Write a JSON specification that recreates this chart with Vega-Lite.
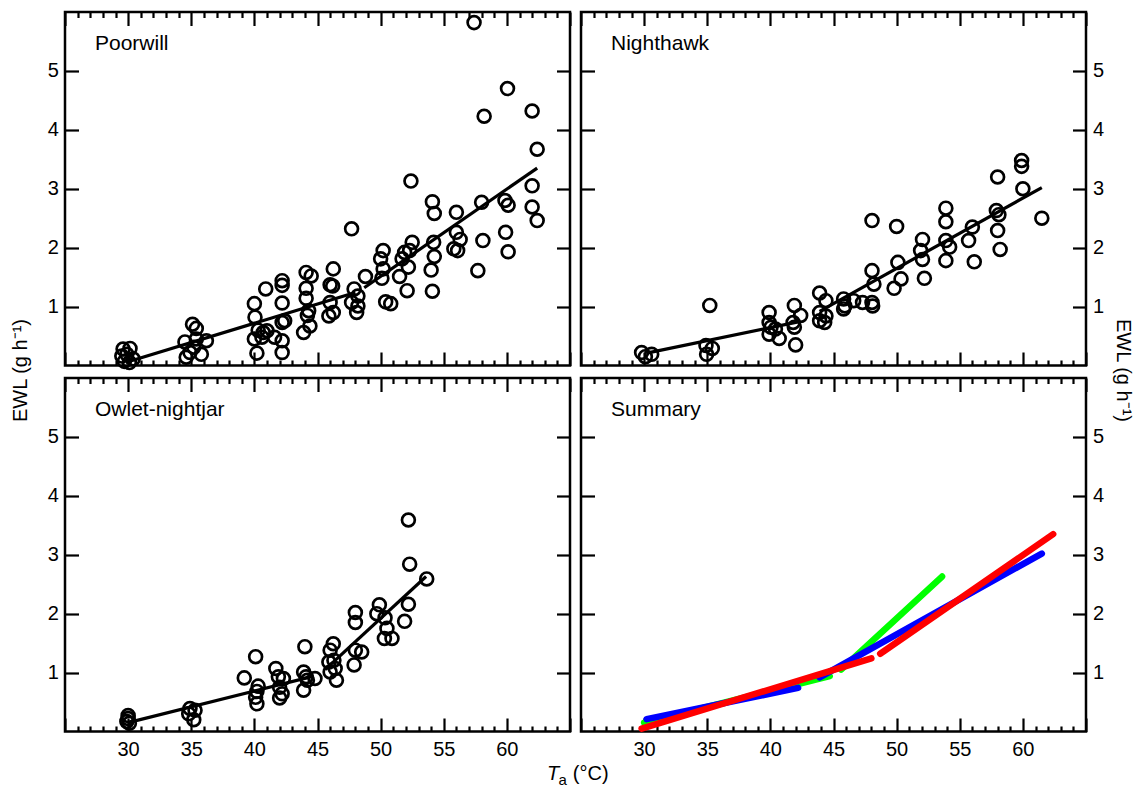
{
  "$schema": "https://vega.github.io/schema/vega-lite/v6.json",
  "padding": {"left": 8, "top": 9, "right": 0, "bottom": 4},
  "bounds": "flush",
  "columns": 2,
  "spacing": {"row": 12, "column": 11},
  "config": {
    "font": "Liberation Sans",
    "view": {"stroke": "black", "strokeWidth": 2.5},
    "axis": {"domain": false, "grid": false, "tickColor": "black", "tickWidth": 2.2, "labelFont": "Liberation Sans", "labelFontSize": 20, "labelColor": "black", "labelFlush": false, "labelOverlap": false, "titleFont": "Liberation Sans", "titleFontSize": 20, "titleColor": "black", "titleFontWeight": "normal"},
    "title": {"font": "Liberation Sans", "fontSize": 21, "fontWeight": "normal", "color": "black"}
  },
  "datasets": {
    "poorwill": [
      {"T": 29.6, "EWL": 0.28}, {"T": 30.15, "EWL": 0.29}, {"T": 29.5, "EWL": 0.16}, {"T": 30.4, "EWL": 0.11}, {"T": 29.9, "EWL": 0.19}, {"T": 29.7, "EWL": 0.07}, {"T": 30.1, "EWL": 0.05},
      {"T": 35.1, "EWL": 0.70}, {"T": 35.4, "EWL": 0.63}, {"T": 34.5, "EWL": 0.40}, {"T": 36.2, "EWL": 0.42}, {"T": 35.4, "EWL": 0.45}, {"T": 34.9, "EWL": 0.22}, {"T": 34.6, "EWL": 0.14}, {"T": 35.8, "EWL": 0.19}, {"T": 35.2, "EWL": 0.31},
      {"T": 40.0, "EWL": 1.05}, {"T": 40.9, "EWL": 1.30}, {"T": 40.05, "EWL": 0.82}, {"T": 40.0, "EWL": 0.45}, {"T": 40.2, "EWL": 0.21}, {"T": 40.7, "EWL": 0.56}, {"T": 41.0, "EWL": 0.59}, {"T": 40.6, "EWL": 0.48}, {"T": 41.6, "EWL": 0.48}, {"T": 42.2, "EWL": 0.42}, {"T": 42.2, "EWL": 0.22}, {"T": 42.2, "EWL": 1.44}, {"T": 42.2, "EWL": 1.36}, {"T": 42.2, "EWL": 1.06}, {"T": 42.4, "EWL": 0.76}, {"T": 42.2, "EWL": 0.73}, {"T": 40.3, "EWL": 0.60},
      {"T": 44.1, "EWL": 1.58}, {"T": 44.5, "EWL": 1.52}, {"T": 44.1, "EWL": 1.31}, {"T": 44.1, "EWL": 1.14}, {"T": 44.3, "EWL": 0.93}, {"T": 44.4, "EWL": 0.67}, {"T": 43.9, "EWL": 0.56}, {"T": 44.2, "EWL": 0.85},
      {"T": 46.25, "EWL": 1.64}, {"T": 46.0, "EWL": 1.37}, {"T": 46.2, "EWL": 1.35}, {"T": 46.0, "EWL": 1.07}, {"T": 46.25, "EWL": 0.90}, {"T": 45.9, "EWL": 0.84},
      {"T": 57.4, "EWL": 5.82}, {"T": 60.05, "EWL": 4.70}, {"T": 58.2, "EWL": 4.23}, {"T": 62.0, "EWL": 4.32}, {"T": 62.4, "EWL": 3.67}, {"T": 52.4, "EWL": 3.13}, {"T": 62.0, "EWL": 3.05}, {"T": 54.1, "EWL": 2.78}, {"T": 54.25, "EWL": 2.58}, {"T": 56.0, "EWL": 2.60}, {"T": 58.0, "EWL": 2.77}, {"T": 59.85, "EWL": 2.80}, {"T": 60.1, "EWL": 2.72}, {"T": 62.0, "EWL": 2.69}, {"T": 62.4, "EWL": 2.46},
      {"T": 47.7, "EWL": 2.32}, {"T": 56.0, "EWL": 2.26}, {"T": 56.3, "EWL": 2.14}, {"T": 58.1, "EWL": 2.12}, {"T": 59.9, "EWL": 2.26}, {"T": 60.1, "EWL": 1.93}, {"T": 55.8, "EWL": 1.98}, {"T": 56.1, "EWL": 1.95}, {"T": 57.7, "EWL": 1.61},
      {"T": 54.2, "EWL": 2.09}, {"T": 54.25, "EWL": 1.85}, {"T": 54.0, "EWL": 1.62}, {"T": 54.1, "EWL": 1.26}, {"T": 52.5, "EWL": 2.09}, {"T": 52.3, "EWL": 1.95}, {"T": 51.9, "EWL": 1.92}, {"T": 51.7, "EWL": 1.81}, {"T": 52.2, "EWL": 1.67}, {"T": 51.5, "EWL": 1.51}, {"T": 52.1, "EWL": 1.27},
      {"T": 50.2, "EWL": 1.95}, {"T": 50.0, "EWL": 1.81}, {"T": 50.2, "EWL": 1.64}, {"T": 50.1, "EWL": 1.48}, {"T": 50.4, "EWL": 1.08}, {"T": 50.8, "EWL": 1.05}, {"T": 48.8, "EWL": 1.51}, {"T": 47.9, "EWL": 1.30}, {"T": 48.2, "EWL": 1.18}, {"T": 47.7, "EWL": 1.07}, {"T": 48.2, "EWL": 1.01}, {"T": 48.1, "EWL": 0.90}
    ],
    "nighthawk": [
      {"T": 29.8, "EWL": 0.22}, {"T": 30.1, "EWL": 0.15}, {"T": 30.6, "EWL": 0.19}, {"T": 35.2, "EWL": 1.02}, {"T": 34.9, "EWL": 0.34}, {"T": 34.95, "EWL": 0.19}, {"T": 35.4, "EWL": 0.29},
      {"T": 39.9, "EWL": 0.90}, {"T": 39.9, "EWL": 0.73}, {"T": 40.05, "EWL": 0.65}, {"T": 39.9, "EWL": 0.53}, {"T": 40.4, "EWL": 0.62}, {"T": 40.7, "EWL": 0.46}, {"T": 41.9, "EWL": 1.02}, {"T": 41.9, "EWL": 0.65}, {"T": 42.4, "EWL": 0.85}, {"T": 42.0, "EWL": 0.35}, {"T": 41.8, "EWL": 0.73},
      {"T": 43.9, "EWL": 1.23}, {"T": 44.4, "EWL": 1.10}, {"T": 43.9, "EWL": 0.90}, {"T": 43.9, "EWL": 0.76}, {"T": 44.3, "EWL": 0.73}, {"T": 44.4, "EWL": 0.84}, {"T": 45.8, "EWL": 1.13}, {"T": 45.8, "EWL": 0.96}, {"T": 45.9, "EWL": 1.01}, {"T": 46.6, "EWL": 1.10}, {"T": 47.3, "EWL": 1.07},
      {"T": 48.05, "EWL": 2.46}, {"T": 48.05, "EWL": 1.61}, {"T": 48.2, "EWL": 1.38}, {"T": 48.05, "EWL": 1.07}, {"T": 48.1, "EWL": 1.01}, {"T": 50.0, "EWL": 2.36}, {"T": 50.1, "EWL": 1.75}, {"T": 50.35, "EWL": 1.47}, {"T": 49.8, "EWL": 1.31},
      {"T": 52.05, "EWL": 2.14}, {"T": 51.9, "EWL": 1.95}, {"T": 52.05, "EWL": 1.80}, {"T": 52.2, "EWL": 1.48}, {"T": 53.9, "EWL": 2.67}, {"T": 53.9, "EWL": 2.44}, {"T": 53.9, "EWL": 2.12}, {"T": 54.2, "EWL": 2.01}, {"T": 53.9, "EWL": 1.78},
      {"T": 56.0, "EWL": 2.35}, {"T": 55.7, "EWL": 2.12}, {"T": 56.15, "EWL": 1.76}, {"T": 58.0, "EWL": 3.20}, {"T": 57.9, "EWL": 2.63}, {"T": 58.1, "EWL": 2.56}, {"T": 58.0, "EWL": 2.29}, {"T": 58.2, "EWL": 1.97},
      {"T": 59.9, "EWL": 3.48}, {"T": 59.9, "EWL": 3.38}, {"T": 60.0, "EWL": 3.00}, {"T": 61.5, "EWL": 2.50}
    ],
    "owlet": [
      {"T": 30.0, "EWL": 0.27}, {"T": 30.0, "EWL": 0.22}, {"T": 29.9, "EWL": 0.17}, {"T": 30.1, "EWL": 0.14}, {"T": 34.9, "EWL": 0.39}, {"T": 35.3, "EWL": 0.36}, {"T": 34.8, "EWL": 0.30}, {"T": 35.2, "EWL": 0.20},
      {"T": 40.1, "EWL": 1.27}, {"T": 39.2, "EWL": 0.91}, {"T": 40.3, "EWL": 0.77}, {"T": 40.2, "EWL": 0.68}, {"T": 40.1, "EWL": 0.58}, {"T": 40.2, "EWL": 0.47}, {"T": 41.7, "EWL": 1.07}, {"T": 41.9, "EWL": 0.93}, {"T": 42.3, "EWL": 0.90}, {"T": 42.0, "EWL": 0.75}, {"T": 42.2, "EWL": 0.64}, {"T": 42.0, "EWL": 0.57},
      {"T": 44.0, "EWL": 1.44}, {"T": 43.9, "EWL": 1.01}, {"T": 44.1, "EWL": 0.93}, {"T": 44.2, "EWL": 0.87}, {"T": 43.9, "EWL": 0.70}, {"T": 44.8, "EWL": 0.90},
      {"T": 46.25, "EWL": 1.49}, {"T": 46.0, "EWL": 1.38}, {"T": 45.9, "EWL": 1.18}, {"T": 46.3, "EWL": 1.21}, {"T": 46.0, "EWL": 1.01}, {"T": 46.4, "EWL": 1.07}, {"T": 46.5, "EWL": 0.87},
      {"T": 48.0, "EWL": 2.02}, {"T": 48.0, "EWL": 1.85}, {"T": 48.0, "EWL": 1.38}, {"T": 48.5, "EWL": 1.35}, {"T": 47.9, "EWL": 1.13},
      {"T": 49.9, "EWL": 2.15}, {"T": 49.7, "EWL": 2.00}, {"T": 50.35, "EWL": 1.93}, {"T": 50.5, "EWL": 1.75}, {"T": 50.3, "EWL": 1.58}, {"T": 50.9, "EWL": 1.58},
      {"T": 52.2, "EWL": 2.16}, {"T": 51.9, "EWL": 1.87}, {"T": 52.3, "EWL": 2.84}, {"T": 52.2, "EWL": 3.59}, {"T": 53.65, "EWL": 2.59}
    ],
    "fits": [
      {"species": "Owlet-nightjar", "seg": "O1", "T": 30.0, "EWL": 0.15},
      {"species": "Owlet-nightjar", "seg": "O1", "T": 44.7, "EWL": 0.94},
      {"species": "Owlet-nightjar", "seg": "O2", "T": 45.6, "EWL": 1.05},
      {"species": "Owlet-nightjar", "seg": "O2", "T": 53.6, "EWL": 2.63},
      {"species": "Nighthawk", "seg": "N1", "T": 30.2, "EWL": 0.21},
      {"species": "Nighthawk", "seg": "N1", "T": 42.2, "EWL": 0.74},
      {"species": "Nighthawk", "seg": "N2", "T": 43.9, "EWL": 0.92},
      {"species": "Nighthawk", "seg": "N2", "T": 61.5, "EWL": 3.02},
      {"species": "Poorwill", "seg": "P1", "T": 29.8, "EWL": 0.05},
      {"species": "Poorwill", "seg": "P1", "T": 48.0, "EWL": 1.24},
      {"species": "Poorwill", "seg": "P2", "T": 48.7, "EWL": 1.32},
      {"species": "Poorwill", "seg": "P2", "T": 62.4, "EWL": 3.35}
    ]
  },
  "concat": [
    {
      "width": 505, "height": 353.5,
      "title": {"text": "Poorwill", "anchor": "start", "frame": "group", "offset": -60.5, "baseline": "alphabetic", "dx": 30},
      "resolve": {"axis": {"x": "independent", "y": "independent"}},
      "layer": [
        {"data": {"name": "poorwill"},
         "mark": {"type": "point", "shape": "circle", "filled": false, "stroke": "black", "strokeWidth": 2.7, "size": 165, "opacity": 1},
         "encoding": {
           "x": {"field": "T", "type": "quantitative", "scale": {"domain": [25, 65], "nice": false, "zero": false}, "axis": {"orient": "bottom", "values": [25,30,35,40,45,50,55,60,65], "tickSize": -13.5, "labels": false, "title": null}},
           "y": {"field": "EWL", "type": "quantitative", "scale": {"domain": [0, 6], "nice": false, "zero": false}, "axis": {"orient": "left", "values": [1,2,3,4,5], "tickSize": -13.5, "labelPadding": 20.2, "title": "EWL (g h⁻¹)", "titleAngle": -90, "titleX": -39, "titleY": 358, "titleAlign": "center", "titleBaseline": "alphabetic"}}
         }},
        {"data": {"name": "fits"}, "transform": [{"filter": "datum.species === 'Poorwill'"}],
         "mark": {"type": "line", "color": "black", "strokeWidth": 3.2},
         "encoding": {
           "x": {"field": "T", "type": "quantitative", "scale": {"domain": [25, 65], "nice": false, "zero": false}, "axis": {"orient": "top", "values": [25,30,35,40,45,50,55,60,65], "tickSize": -13.5, "labels": false, "title": null}},
           "y": {"field": "EWL", "type": "quantitative", "scale": {"domain": [0, 6], "nice": false, "zero": false}, "axis": {"orient": "right", "values": [1,2,3,4,5], "tickSize": -13.5, "labels": false, "title": null}},
           "detail": {"field": "seg", "type": "nominal"}
         }},
        {"data": {"name": "fits"}, "mark": {"type": "point", "opacity": 0},
         "encoding": {
           "x": {"field": "T", "type": "quantitative", "scale": {"domain": [25, 65], "nice": false, "zero": false}, "axis": {"orient": "bottom", "values": [26,27,28,29,31,32,33,34,36,37,38,39,41,42,43,44,46,47,48,49,51,52,53,54,56,57,58,59,61,62,63,64], "tickSize": -5.5, "labels": false, "title": null}},
           "y": {"field": "EWL", "type": "quantitative", "scale": {"domain": [0, 6], "nice": false, "zero": false}, "axis": null}
         }},
        {"data": {"name": "fits"}, "mark": {"type": "point", "opacity": 0},
         "encoding": {
           "x": {"field": "T", "type": "quantitative", "scale": {"domain": [25, 65], "nice": false, "zero": false}, "axis": {"orient": "top", "values": [26,27,28,29,31,32,33,34,36,37,38,39,41,42,43,44,46,47,48,49,51,52,53,54,56,57,58,59,61,62,63,64], "tickSize": -5.5, "labels": false, "title": null}},
           "y": {"field": "EWL", "type": "quantitative", "scale": {"domain": [0, 6], "nice": false, "zero": false}, "axis": null}
         }}
      ]
    },
    {
      "width": 505, "height": 353.5,
      "title": {"text": "Nighthawk", "anchor": "start", "frame": "group", "offset": -60.5, "baseline": "alphabetic", "dx": 30},
      "resolve": {"axis": {"x": "independent", "y": "independent"}},
      "layer": [
        {"data": {"name": "nighthawk"},
         "mark": {"type": "point", "shape": "circle", "filled": false, "stroke": "black", "strokeWidth": 2.7, "size": 165, "opacity": 1},
         "encoding": {
           "x": {"field": "T", "type": "quantitative", "scale": {"domain": [25, 65], "nice": false, "zero": false}, "axis": {"orient": "bottom", "values": [25,30,35,40,45,50,55,60,65], "tickSize": -13.5, "labels": false, "title": null}},
           "y": {"field": "EWL", "type": "quantitative", "scale": {"domain": [0, 6], "nice": false, "zero": false}, "axis": {"orient": "right", "values": [1,2,3,4,5], "tickSize": -13.5, "labelPadding": 20.1, "title": "EWL (g h⁻¹)", "titleAngle": 90, "titleX": 30, "titleY": 358, "titleAlign": "center", "titleBaseline": "alphabetic"}}
         }},
        {"data": {"name": "fits"}, "transform": [{"filter": "datum.species === 'Nighthawk'"}],
         "mark": {"type": "line", "color": "black", "strokeWidth": 3.2},
         "encoding": {
           "x": {"field": "T", "type": "quantitative", "scale": {"domain": [25, 65], "nice": false, "zero": false}, "axis": {"orient": "top", "values": [25,30,35,40,45,50,55,60,65], "tickSize": -13.5, "labels": false, "title": null}},
           "y": {"field": "EWL", "type": "quantitative", "scale": {"domain": [0, 6], "nice": false, "zero": false}, "axis": {"orient": "left", "values": [1,2,3,4,5], "tickSize": -13.5, "labels": false, "title": null}},
           "detail": {"field": "seg", "type": "nominal"}
         }},
        {"data": {"name": "fits"}, "mark": {"type": "point", "opacity": 0},
         "encoding": {
           "x": {"field": "T", "type": "quantitative", "scale": {"domain": [25, 65], "nice": false, "zero": false}, "axis": {"orient": "bottom", "values": [26,27,28,29,31,32,33,34,36,37,38,39,41,42,43,44,46,47,48,49,51,52,53,54,56,57,58,59,61,62,63,64], "tickSize": -5.5, "labels": false, "title": null}},
           "y": {"field": "EWL", "type": "quantitative", "scale": {"domain": [0, 6], "nice": false, "zero": false}, "axis": null}
         }},
        {"data": {"name": "fits"}, "mark": {"type": "point", "opacity": 0},
         "encoding": {
           "x": {"field": "T", "type": "quantitative", "scale": {"domain": [25, 65], "nice": false, "zero": false}, "axis": {"orient": "top", "values": [26,27,28,29,31,32,33,34,36,37,38,39,41,42,43,44,46,47,48,49,51,52,53,54,56,57,58,59,61,62,63,64], "tickSize": -5.5, "labels": false, "title": null}},
           "y": {"field": "EWL", "type": "quantitative", "scale": {"domain": [0, 6], "nice": false, "zero": false}, "axis": null}
         }}
      ]
    },
    {
      "width": 505, "height": 353.5,
      "title": {"text": "Owlet-nightjar", "anchor": "start", "frame": "group", "offset": -60.5, "baseline": "alphabetic", "dx": 30},
      "resolve": {"axis": {"x": "independent", "y": "independent"}},
      "layer": [
        {"data": {"name": "owlet"},
         "mark": {"type": "point", "shape": "circle", "filled": false, "stroke": "black", "strokeWidth": 2.7, "size": 165, "opacity": 1},
         "encoding": {
           "x": {"field": "T", "type": "quantitative", "scale": {"domain": [25, 65], "nice": false, "zero": false}, "axis": {"orient": "bottom", "values": [25,30,35,40,45,50,55,60,65], "tickSize": -13.5, "labelPadding": 21.5, "labelExpr": "datum.value > 25 && datum.value < 65 ? datum.label : ''", "title": "T", "titleFontStyle": "italic", "titleAngle": 0, "titleAlign": "left", "titleBaseline": "alphabetic", "titleX": 481.5, "titleY": 48}},
           "y": {"field": "EWL", "type": "quantitative", "scale": {"domain": [0, 6], "nice": false, "zero": false}, "axis": {"orient": "left", "values": [1,2,3,4,5], "tickSize": -13.5, "labelPadding": 20.2, "title": null}}
         }},
        {"data": {"name": "fits"}, "transform": [{"filter": "datum.species === 'Owlet-nightjar'"}],
         "mark": {"type": "line", "color": "black", "strokeWidth": 3.2},
         "encoding": {
           "x": {"field": "T", "type": "quantitative", "scale": {"domain": [25, 65], "nice": false, "zero": false}, "axis": {"orient": "top", "values": [25,30,35,40,45,50,55,60,65], "tickSize": -13.5, "labels": false, "title": null}},
           "y": {"field": "EWL", "type": "quantitative", "scale": {"domain": [0, 6], "nice": false, "zero": false}, "axis": {"orient": "right", "values": [1,2,3,4,5], "tickSize": -13.5, "labels": false, "title": null}},
           "detail": {"field": "seg", "type": "nominal"}
         }},
        {"data": {"name": "fits"}, "mark": {"type": "point", "opacity": 0},
         "encoding": {
           "x": {"field": "T", "type": "quantitative", "scale": {"domain": [25, 65], "nice": false, "zero": false}, "axis": {"orient": "bottom", "values": [26,27,28,29,31,32,33,34,36,37,38,39,41,42,43,44,46,47,48,49,51,52,53,54,56,57,58,59,61,62,63,64], "tickSize": -5.5, "labels": false, "title": "a", "titleFontSize": 15, "titleAngle": 0, "titleAlign": "left", "titleBaseline": "alphabetic", "titleX": 493, "titleY": 53}},
           "y": {"field": "EWL", "type": "quantitative", "scale": {"domain": [0, 6], "nice": false, "zero": false}, "axis": null}
         }},
        {"data": {"name": "fits"}, "mark": {"type": "point", "opacity": 0},
         "encoding": {
           "x": {"field": "T", "type": "quantitative", "scale": {"domain": [25, 65], "nice": false, "zero": false}, "axis": {"orient": "top", "values": [26,27,28,29,31,32,33,34,36,37,38,39,41,42,43,44,46,47,48,49,51,52,53,54,56,57,58,59,61,62,63,64], "tickSize": -5.5, "labels": false, "title": null}},
           "y": {"field": "EWL", "type": "quantitative", "scale": {"domain": [0, 6], "nice": false, "zero": false}, "axis": null}
         }}
      ]
    },
    {
      "width": 505, "height": 353.5,
      "title": {"text": "Summary", "anchor": "start", "frame": "group", "offset": -60.5, "baseline": "alphabetic", "dx": 30},
      "resolve": {"axis": {"x": "independent", "y": "independent"}},
      "layer": [
        {"data": {"name": "fits"},
         "mark": {"type": "line", "strokeWidth": 6.5, "strokeCap": "round"},
         "encoding": {
           "x": {"field": "T", "type": "quantitative", "scale": {"domain": [25, 65], "nice": false, "zero": false}, "axis": {"orient": "bottom", "values": [25,30,35,40,45,50,55,60,65], "tickSize": -13.5, "labelPadding": 21.5, "labelExpr": "datum.value > 25 && datum.value < 65 ? datum.label : ''", "title": "(°C)", "titleAngle": 0, "titleAlign": "left", "titleBaseline": "alphabetic", "titleX": -8.7, "titleY": 48}},
           "y": {"field": "EWL", "type": "quantitative", "scale": {"domain": [0, 6], "nice": false, "zero": false}, "axis": {"orient": "right", "values": [1,2,3,4,5], "tickSize": -13.5, "labelPadding": 20.1, "title": null}},
           "color": {"field": "species", "type": "nominal", "scale": {"domain": ["Owlet-nightjar", "Nighthawk", "Poorwill"], "range": ["#00ff00", "#0000ff", "#ff0000"]}, "legend": null},
           "detail": {"field": "seg", "type": "nominal"}
         }},
        {"data": {"name": "fits"}, "mark": {"type": "point", "opacity": 0},
         "encoding": {
           "x": {"field": "T", "type": "quantitative", "scale": {"domain": [25, 65], "nice": false, "zero": false}, "axis": {"orient": "top", "values": [25,30,35,40,45,50,55,60,65], "tickSize": -13.5, "labels": false, "title": null}},
           "y": {"field": "EWL", "type": "quantitative", "scale": {"domain": [0, 6], "nice": false, "zero": false}, "axis": {"orient": "left", "values": [1,2,3,4,5], "tickSize": -13.5, "labels": false, "title": null}}
         }},
        {"data": {"name": "fits"}, "mark": {"type": "point", "opacity": 0},
         "encoding": {
           "x": {"field": "T", "type": "quantitative", "scale": {"domain": [25, 65], "nice": false, "zero": false}, "axis": {"orient": "bottom", "values": [26,27,28,29,31,32,33,34,36,37,38,39,41,42,43,44,46,47,48,49,51,52,53,54,56,57,58,59,61,62,63,64], "tickSize": -5.5, "labels": false, "title": null}},
           "y": {"field": "EWL", "type": "quantitative", "scale": {"domain": [0, 6], "nice": false, "zero": false}, "axis": null}
         }},
        {"data": {"name": "fits"}, "mark": {"type": "point", "opacity": 0},
         "encoding": {
           "x": {"field": "T", "type": "quantitative", "scale": {"domain": [25, 65], "nice": false, "zero": false}, "axis": {"orient": "top", "values": [26,27,28,29,31,32,33,34,36,37,38,39,41,42,43,44,46,47,48,49,51,52,53,54,56,57,58,59,61,62,63,64], "tickSize": -5.5, "labels": false, "title": null}},
           "y": {"field": "EWL", "type": "quantitative", "scale": {"domain": [0, 6], "nice": false, "zero": false}, "axis": null}
         }}
      ]
    }
  ]
}
